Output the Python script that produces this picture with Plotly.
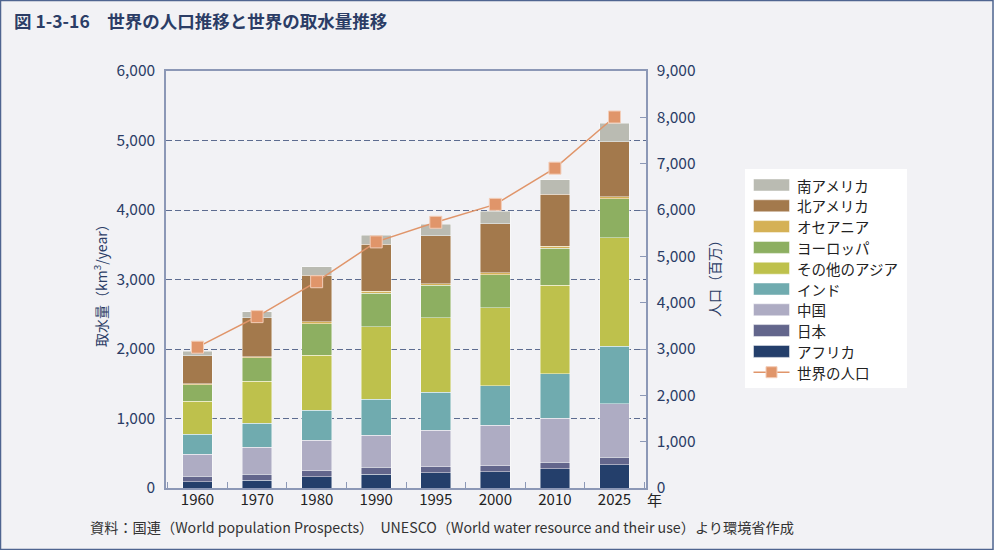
import plotly.graph_objects as go

years = ["1960", "1970", "1980", "1990", "1995", "2000", "2010", "2025"]
tick_labels = ["1960", "1970", "1980", "1990", "1995", "2000", "2010", "2025"]

# water withdrawal by region (km3/year), bottom to top
africa = [90, 115, 163, 201, 220, 234, 277, 335]
japan = [82, 86, 86, 96, 86, 86, 96, 110]
china = [316, 388, 441, 464, 527, 585, 633, 766]
india = [288, 345, 431, 518, 546, 565, 636, 832]
other_asia = [474, 603, 790, 1043, 1073, 1126, 1274, 1558]
europe = [234, 335, 455, 483, 464, 474, 536, 560]
oceania = [14, 19, 24, 25, 24, 24, 29, 33]
north_america = [402, 556, 670, 676, 689, 709, 746, 789]
south_america = [68, 86, 120, 133, 167, 181, 211, 263]

# world population (millions)
population = [3039, 3699, 4452, 5312, 5735, 6122, 6903, 8007]

series_names = ["アフリカ", "日本", "中国", "インド", "その他のアジア",
                "ヨーロッパ", "オセアニア", "北アメリカ", "南アメリカ"]
series_values = [africa, japan, china, india, other_asia,
                 europe, oceania, north_america, south_america]
series_colors = ["#243f6b", "#63668c", "#aeacc3", "#70abaf", "#bec14c",
                 "#8daf61", "#d5b156", "#a3794c", "#babbb2"]
pop_name = "世界の人口"
pop_color = "#e0956a"

FONT = "Noto Sans CJK JP"
NAVY = "#2b3d66"
AX = "#8c98b6"

# plot area in pixels
L, R, T, B = 166, 646, 71, 488
W, H = R - L, B - T


def px(x):
    return (x - L) / W


def py(y):
    return (B - y) / H


fig = go.Figure()
for name, vals, col in zip(series_names, series_values, series_colors):
    fig.add_trace(go.Bar(
        x=years, y=vals, name=name, marker_color=col,
        marker_line=dict(color="rgba(255,255,255,0.55)", width=0.8),
        width=0.5, showlegend=False))

fig.add_trace(go.Scatter(
    x=years, y=population, name=pop_name, yaxis="y2", mode="lines+markers",
    line=dict(color=pop_color, width=1.5),
    marker=dict(symbol="square", size=12, color=pop_color,
                line=dict(color="#f3cdb8", width=1)),
    showlegend=False))

shapes = []
annotations = []

# outer border
shapes.append(dict(type="rect", xref="paper", yref="paper",
                   x0=px(0.5), x1=px(993), y0=py(549.5), y1=py(0.5),
                   line=dict(color="#4f6590", width=1.5), layer="below"))

# manual legend
shapes.append(dict(type="rect", xref="paper", yref="paper",
                   x0=px(745), x1=px(907), y0=py(388), y1=py(169),
                   fillcolor="white", line=dict(width=0), layer="below"))
legend_items = list(zip(series_names, series_colors))[::-1]
for i, (name, col) in enumerate(legend_items):
    cy = 185 + 20.8 * i
    shapes.append(dict(type="rect", xref="paper", yref="paper",
                       x0=px(753.5), x1=px(789.5), y0=py(cy + 6), y1=py(cy - 6),
                       fillcolor=col, line=dict(color="rgba(255,255,255,0.6)", width=0.8)))
    annotations.append(dict(text=name, xref="paper", yref="paper",
                            x=px(795), y=py(cy), xanchor="left", yanchor="middle",
                            showarrow=False, font=dict(family=FONT, size=14.5, color="#222222")))
cy = 185 + 20.8 * 9
shapes.append(dict(type="line", xref="paper", yref="paper",
                   x0=px(753.5), x1=px(789.5), y0=py(cy), y1=py(cy),
                   line=dict(color=pop_color, width=1.5)))
shapes.append(dict(type="rect", xref="paper", yref="paper",
                   x0=px(766), x1=px(777), y0=py(cy + 5.5), y1=py(cy - 5.5),
                   fillcolor=pop_color, line=dict(color="#f3cdb8", width=1)))
annotations.append(dict(text=pop_name, xref="paper", yref="paper",
                        x=px(795), y=py(cy), xanchor="left", yanchor="middle",
                        showarrow=False, font=dict(family=FONT, size=14.5, color="#222222")))

# title
annotations.append(dict(text="<b>図 1-3-16　世界の人口推移と世界の取水量推移</b>",
                        xref="paper", yref="paper", x=px(12), y=py(20),
                        xanchor="left", yanchor="middle", showarrow=False,
                        font=dict(family=FONT, size=17.5, color=NAVY)))
# axis titles
annotations.append(dict(text="取水量（km<sup>3</sup>/year）", xref="paper", yref="paper",
                        x=px(100), y=py(282), textangle=-90, showarrow=False,
                        xanchor="center", yanchor="middle",
                        font=dict(family=FONT, size=14, color=NAVY)))
annotations.append(dict(text="人口（百万）", xref="paper", yref="paper",
                        x=px(714), y=py(275), textangle=-90, showarrow=False,
                        xanchor="center", yanchor="middle",
                        font=dict(family=FONT, size=14, color=NAVY)))
# 年 suffix
annotations.append(dict(text="年", xref="paper", yref="paper",
                        x=px(645), y=py(499), xanchor="left", yanchor="middle",
                        showarrow=False, font=dict(family=FONT, size=15, color="#222222")))
# source
annotations.append(dict(text="資料：国連（World population Prospects）　UNESCO（World water resource and their use）より環境省作成",
                        xref="paper", yref="paper", x=px(88), y=py(527),
                        xanchor="left", yanchor="middle", showarrow=False,
                        font=dict(family=FONT, size=14.2, color="#333333")))

fig.update_layout(
    width=994, height=550,
    margin=dict(l=L, r=994 - R, t=T, b=550 - B, pad=0),
    paper_bgcolor="#f2f2f5", plot_bgcolor="#f2f2f5",
    barmode="stack", bargap=0.5,
    font=dict(family=FONT, color=NAVY),
    xaxis=dict(type="category", tickvals=years, ticktext=tick_labels,
               showline=True, linecolor=AX, linewidth=1.5, mirror=True,
               ticks="inside", tickson="boundaries", ticklen=6, tickcolor=AX,
               ticklabelstandoff=-3,
               showgrid=False, tickfont=dict(family=FONT, size=15, color="#222222")),
    yaxis=dict(range=[0, 6000], dtick=1000, tickformat=",d",
               showline=True, linecolor=AX, linewidth=1.5,
               showgrid=True, gridcolor="#5d6c90", gridwidth=1, griddash="6px,3px",
               zeroline=False, ticks="", ticklabelstandoff=6,
               tickfont=dict(family=FONT, size=15.5, color=NAVY)),
    yaxis2=dict(range=[0, 9000], dtick=1000, tickformat=",d", overlaying="y",
                side="right", showline=True, linecolor=AX, linewidth=1.5,
                showgrid=False, zeroline=False, ticks="inside", ticklen=6,
                tickcolor=AX, ticklabelstandoff=6,
                tickfont=dict(family=FONT, size=15.5, color=NAVY)),
    shapes=shapes, annotations=annotations,
)

fig.write_html("out.html", config={"displayModeBar": False},
               post_script="document.body.style.margin='0';document.body.style.overflow='hidden';")
